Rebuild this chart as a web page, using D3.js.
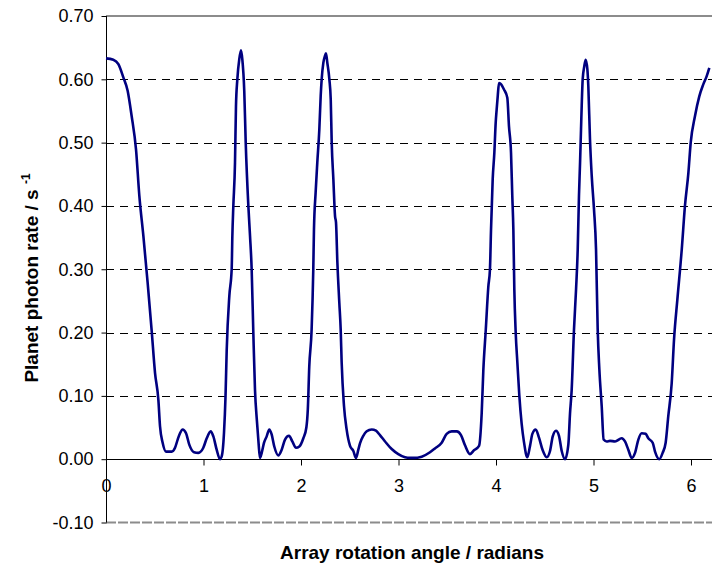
<!DOCTYPE html>
<html>
<head>
<meta charset="utf-8">
<script src="https://cdn.jsdelivr.net/npm/d3@7"></script>
<style>
  html, body { margin: 0; padding: 0; background: #fff; }
  svg { display: block; font-family: "Liberation Sans", Arial, sans-serif; }
</style>
</head>
<body>
<svg id="chart" width="712" height="569"></svg>
<script>
// angle (radians) and planet photon rate (1/s)
const angle = [
  0.000, 0.075, 0.127, 0.178, 0.222, 0.263, 0.308, 0.342, 0.383, 0.427,
  0.468, 0.503, 0.537, 0.554, 0.581, 0.615, 0.674, 0.708, 0.735, 0.759,
  0.786, 0.821, 0.854, 0.903, 0.947, 0.998, 1.033, 1.074, 1.101, 1.135,
  1.169, 1.186, 1.210, 1.226, 1.238, 1.265, 1.289, 1.296, 1.306, 1.323,
  1.333, 1.347, 1.367, 1.385, 1.398, 1.418, 1.433, 1.460, 1.477, 1.494,
  1.511, 1.528, 1.548, 1.565, 1.579, 1.597, 1.621, 1.648, 1.675, 1.699,
  1.726, 1.767, 1.802, 1.836, 1.877, 1.911, 1.949, 1.983, 2.024, 2.055,
  2.070, 2.085, 2.109, 2.126, 2.133, 2.150, 2.167, 2.188, 2.202, 2.212,
  2.229, 2.246, 2.256, 2.270, 2.291, 2.305, 2.315, 2.332, 2.349, 2.359,
  2.373, 2.393, 2.407, 2.417, 2.441, 2.468, 2.503, 2.537, 2.564, 2.588,
  2.605, 2.639, 2.674, 2.725, 2.769, 2.810, 2.862, 2.930, 2.998, 3.067,
  3.118, 3.152, 3.238, 3.323, 3.374, 3.443, 3.494, 3.546, 3.597, 3.641,
  3.682, 3.733, 3.774, 3.826, 3.853, 3.870, 3.895, 3.921, 3.938, 3.949,
  3.966, 3.983, 3.997, 4.007, 4.018, 4.031, 4.046, 4.082, 4.116, 4.133,
  4.154, 4.167, 4.178, 4.188, 4.202, 4.219, 4.239, 4.263, 4.287, 4.321,
  4.349, 4.373, 4.407, 4.441, 4.479, 4.520, 4.554, 4.582, 4.615, 4.646,
  4.674, 4.708, 4.742, 4.759, 4.776, 4.800, 4.821, 4.838, 4.851, 4.862,
  4.872, 4.879, 4.889, 4.906, 4.920, 4.937, 4.947, 4.964, 4.982, 5.005,
  5.026, 5.043, 5.060, 5.084, 5.104, 5.135, 5.169, 5.221, 5.289, 5.323,
  5.357, 5.392, 5.426, 5.460, 5.494, 5.535, 5.562, 5.607, 5.631, 5.675,
  5.709, 5.740, 5.767, 5.802, 5.826, 5.860, 5.905, 5.938, 5.973, 5.997,
  6.041, 6.085, 6.126, 6.161, 6.188
];
const rate = [
  0.633, 0.631, 0.624, 0.603, 0.582, 0.542, 0.489, 0.416, 0.353, 0.279,
  0.204, 0.136, 0.094, 0.052, 0.026, 0.012, 0.012, 0.018, 0.031, 0.041,
  0.047, 0.041, 0.023, 0.011, 0.010, 0.018, 0.033, 0.044, 0.036, 0.015,
  0.000, 0.004, 0.041, 0.100, 0.172, 0.258, 0.300, 0.353, 0.400, 0.468,
  0.557, 0.600, 0.632, 0.646, 0.632, 0.582, 0.500, 0.400, 0.353, 0.300,
  0.200, 0.110, 0.060, 0.025, 0.002, 0.010, 0.026, 0.036, 0.047, 0.039,
  0.020, 0.006, 0.015, 0.031, 0.037, 0.028, 0.018, 0.020, 0.033, 0.050,
  0.079, 0.147, 0.205, 0.300, 0.363, 0.421, 0.468, 0.521, 0.574, 0.600,
  0.626, 0.637, 0.641, 0.626, 0.600, 0.568, 0.500, 0.442, 0.384, 0.374,
  0.311, 0.247, 0.205, 0.153, 0.084, 0.047, 0.021, 0.013, 0.002, 0.015,
  0.025, 0.037, 0.044, 0.047, 0.045, 0.038, 0.028, 0.016, 0.008, 0.003,
  0.002, 0.002, 0.004, 0.011, 0.017, 0.026, 0.040, 0.044, 0.044, 0.038,
  0.022, 0.008, 0.014, 0.021, 0.072, 0.140, 0.204, 0.272, 0.300, 0.363,
  0.442, 0.484, 0.532, 0.553, 0.574, 0.594, 0.593, 0.584, 0.571, 0.526,
  0.484, 0.416, 0.363, 0.268, 0.200, 0.153, 0.101, 0.056, 0.027, 0.003,
  0.021, 0.040, 0.047, 0.034, 0.014, 0.003, 0.013, 0.036, 0.045, 0.037,
  0.013, 0.000, 0.023, 0.072, 0.109, 0.205, 0.268, 0.331, 0.416, 0.468,
  0.521, 0.558, 0.600, 0.621, 0.631, 0.616, 0.589, 0.505, 0.447, 0.395,
  0.331, 0.205, 0.142, 0.084, 0.031, 0.028, 0.029, 0.028, 0.033, 0.028,
  0.015, 0.002, 0.010, 0.031, 0.041, 0.040, 0.033, 0.026, 0.012, 0.000,
  0.010, 0.026, 0.068, 0.120, 0.189, 0.252, 0.331, 0.400, 0.452, 0.500,
  0.542, 0.573, 0.592, 0.605, 0.618
];
const xTicks = [0, 1, 2, 3, 4, 5, 6];
const yTicks = [-0.1, 0, 0.1, 0.2, 0.3, 0.4, 0.5, 0.6, 0.7];

const svg = d3.select('#chart');
const chartW = 712;
const plotLeft = 106, plotTop = 16, plotBottom = 522.5;

// scales (plot runs past the right edge of the picture)
const x = d3.scaleLinear().domain([0, 6.5]).range([plotLeft, plotLeft + 6.5 * 97.5]);
const y = d3.scaleLinear().domain([-0.1, 0.7]).range([plotBottom, plotTop]);

// dashed gridlines
svg.append('g')
  .selectAll('line')
  .data(yTicks.filter(d => d > -0.05 && d < 0.65 && d !== 0))
  .enter()
  .append('line')
  .attr('x1', plotLeft).attr('x2', chartW)
  .attr('y1', d => Math.round(y(d)) + 0.5).attr('y2', d => Math.round(y(d)) + 0.5)
  .attr('stroke', '#000')
  .attr('stroke-dasharray', '8,6');

// plot area top and bottom borders
svg.append('line')
  .attr('x1', plotLeft).attr('x2', chartW)
  .attr('y1', y(0.7)).attr('y2', y(0.7))
  .attr('stroke', '#8c8c8c').attr('stroke-width', 2);
svg.append('line')
  .attr('x1', plotLeft).attr('x2', chartW)
  .attr('y1', y(-0.1)).attr('y2', y(-0.1))
  .attr('stroke', '#8c8c8c').attr('stroke-width', 2)
  .attr('stroke-dasharray', '10,2');

// y axis
const yAxis = svg.append('g')
  .attr('transform', `translate(${plotLeft + 0.5},0)`)
  .call(d3.axisLeft(y).tickValues(yTicks).tickSize(5).tickPadding(8));
yAxis.select('.domain').attr('d', `M0,${y(0.7)}V${y(-0.1)}`).attr('stroke', '#000');
yAxis.selectAll('text')
  .attr('font-size', 18)
  .attr('fill', '#000')
  .attr('font-family', '"Liberation Sans", Arial, sans-serif')
  .text(d => d < 0 ? '-' + d3.format('.2f')(-d) : d3.format('.2f')(d));

// x axis on the zero line
const xAxis = svg.append('g')
  .attr('transform', `translate(0,${Math.round(y(0)) + 0.5})`)
  .call(d3.axisBottom(x).tickValues(xTicks).tickFormat(d3.format('d')).tickSize(6).tickPadding(14));
xAxis.select('.domain').attr('d', `M${plotLeft},0H${chartW}`).attr('stroke', '#000');
xAxis.selectAll('text')
  .attr('font-size', 18)
  .attr('fill', '#000')
  .attr('font-family', '"Liberation Sans", Arial, sans-serif');

// the curve
const line = d3.line()
  .x(d => x(d[0]))
  .y(d => y(d[1]))
  .curve(d3.curveMonotoneX);
svg.append('path')
  .datum(angle.map((a, i) => [a, rate[i]]))
  .attr('d', line)
  .attr('fill', 'none')
  .attr('stroke', '#000080')
  .attr('stroke-width', 2.6)
  .attr('stroke-linejoin', 'round');

// axis titles
svg.append('text')
  .attr('x', 412).attr('y', 559)
  .attr('text-anchor', 'middle')
  .attr('font-size', 19).attr('font-weight', 'bold')
  .text('Array rotation angle / radians');

const yTitle = svg.append('text')
  .attr('transform', 'translate(38,278) rotate(-90)')
  .attr('text-anchor', 'middle')
  .attr('font-size', 19).attr('font-weight', 'bold');
yTitle.append('tspan').text('Planet photon rate / s ');
yTitle.append('tspan').attr('font-size', 12).attr('dy', -8).text('-1');
</script>
</body>
</html>
